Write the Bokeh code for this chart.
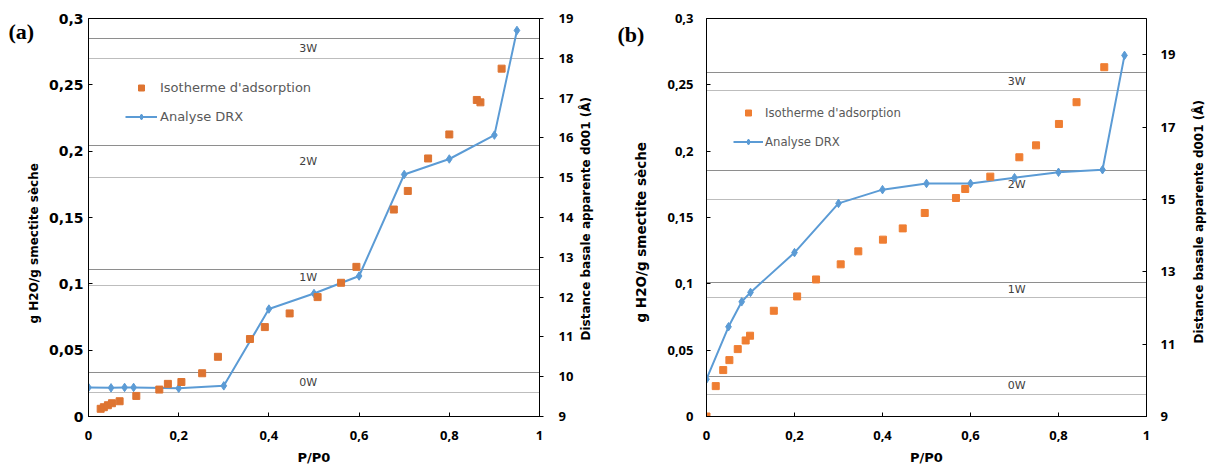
import math
from bokeh.plotting import figure
from bokeh.layouts import row
from bokeh.models import (Range1d, LinearAxis, FixedTicker, CustomJSTickFormatter,
                          Label, Legend, LegendItem)
from bokeh.embed import file_html
from bokeh.resources import INLINE
from bokeh.core.properties import value

# ---------------- data ----------------
# panel (a)
a_drx_p = [0, 0.05, 0.08, 0.1, 0.2, 0.3, 0.4, 0.5, 0.6, 0.7, 0.8, 0.9, 0.95]
a_drx_d = [9.73, 9.72, 9.73, 9.73, 9.71, 9.77, 11.70, 12.09, 12.53, 15.08, 15.47, 16.07, 18.70]
a_iso_p = [0.027, 0.034, 0.043, 0.052, 0.069, 0.106, 0.157, 0.176, 0.206, 0.252, 0.287,
           0.358, 0.391, 0.446, 0.508, 0.560, 0.594, 0.677, 0.708, 0.753, 0.800, 0.861,
           0.869, 0.916]
a_iso_w = [0.0058, 0.0070, 0.0085, 0.0100, 0.0115, 0.0155, 0.0203, 0.0246, 0.0260, 0.0326,
           0.0450, 0.0584, 0.0674, 0.0777, 0.0900, 0.1008, 0.1128, 0.1560, 0.1700, 0.1945,
           0.2126, 0.2386, 0.2368, 0.2622]
# panel (b)
b_drx_p = [0, 0.05, 0.08, 0.1, 0.2, 0.3, 0.4, 0.5, 0.6, 0.7, 0.8, 0.9, 0.95]
b_drx_d = [10.03, 11.48, 12.17, 12.43, 13.53, 14.89, 15.27, 15.44, 15.44, 15.60, 15.75, 15.82, 18.98]
b_iso_p = [0, 0.021, 0.038, 0.052, 0.071, 0.089, 0.099, 0.153, 0.206, 0.249, 0.305, 0.345,
           0.401, 0.446, 0.496, 0.567, 0.588, 0.645, 0.711, 0.749, 0.801, 0.841, 0.904]
b_iso_w = [0, 0.0229, 0.0350, 0.0425, 0.0508, 0.0573, 0.0609, 0.0797, 0.0905, 0.1033, 0.1147,
           0.1245, 0.1333, 0.1418, 0.1534, 0.1647, 0.1715, 0.1808, 0.1954, 0.2044, 0.2205,
           0.2369, 0.2633]

# hydration state bands (basal distance, Å)
band_names = ["0W", "1W", "2W", "3W"]
band_lo = [9.6, 12.3, 15.0, 18.0]
band_hi = [10.1, 12.7, 15.8, 18.5]

# ticks
x_ticks = [0, 0.2, 0.4, 0.6, 0.8, 1]
w_ticks = [0, 0.05, 0.1, 0.15, 0.2, 0.25, 0.3]
a_d_ticks = [9, 10, 11, 12, 13, 14, 15, 16, 17, 18, 19]
b_d_ticks = [9, 11, 13, 15, 17, 19]

BLUE = "#5B9BD5"
COMMA_CODE = "return tick.toFixed(2).replace(/0+$/, '').replace(/\\.$/, '').replace('.', ',');"


def style_axis(ax, font, size, tin, tout, standoff):
    ax.axis_line_color = "black"
    ax.axis_line_width = 1
    ax.major_tick_line_color = "black"
    ax.major_tick_in = tin
    ax.major_tick_out = tout
    ax.minor_tick_line_color = None
    ax.major_label_text_font = font
    ax.major_label_text_font_size = size
    ax.major_label_text_font_style = "bold"
    ax.major_label_text_color = "black"
    ax.major_label_standoff = standoff


def side_label(p, side, x, y, text, xo, yo, size, angle=0.0, font="DejaVu Sans"):
    p.add_layout(Label(x=x, y=y, x_offset=xo, y_offset=yo, text=text, angle=angle,
                       text_font=font, text_font_size=size, text_font_style="bold",
                       text_color="black", text_align="left", text_baseline="middle"), side)


def panel(cfg, drx_p, drx_d, iso_p, iso_w, d_top, d_ticks, orange):
    p = figure(width=cfg["width"], height=467, x_range=Range1d(0, 1), y_range=Range1d(0, 0.3),
               output_backend="svg", toolbar_location=None,
               min_border_left=cfg["bl"], min_border_right=cfg["br"],
               min_border_top=cfg["bt"], min_border_bottom=51)
    p.extra_y_ranges = {"d": Range1d(9, d_top)}
    p.xgrid.visible = False
    p.ygrid.visible = False
    p.outline_line_color = "black"
    p.outline_line_width = 1
    p.background_fill_color = "white"
    p.border_fill_color = "white"

    # axes
    xa = p.xaxis[0]
    xa.ticker = FixedTicker(ticks=x_ticks)
    xa.formatter = CustomJSTickFormatter(code=COMMA_CODE)
    style_axis(xa, "Open Sans", "13px", 4, 0, 14)
    xa.axis_label = "P/P0"
    xa.axis_label_standoff = 7
    xa.axis_label_text_font = "DejaVu Sans"
    xa.axis_label_text_font_size = "13px"
    xa.axis_label_text_font_style = "bold"
    xa.axis_label_text_color = "black"

    ya = p.yaxis[0]
    ya.ticker = FixedTicker(ticks=w_ticks)
    ya.formatter = CustomJSTickFormatter(code=COMMA_CODE)
    style_axis(ya, cfg["lfont"], cfg["lsize"], 4, 0, cfg["ls"])

    rax = LinearAxis(y_range_name="d", ticker=FixedTicker(ticks=d_ticks))
    style_axis(rax, "Open Sans", "13px", cfg["rin"], cfg["rout"], cfg["rs"])
    p.add_layout(rax, "right")

    # bands
    p.hspan(y=band_hi, y_range_name="d", line_color="#8E8E8E", line_width=1)
    p.hspan(y=band_lo, y_range_name="d", line_color="#BDBDBD", line_width=1)
    mids = [(a + b) / 2 for a, b in zip(band_lo, band_hi)]
    p.text(x=[cfg["bx"]] * len(mids), y=mids, text=band_names, y_range_name="d",
           text_font=value("DejaVu Sans"), text_font_size="11px", text_color="#404040",
           text_align="center", text_baseline="middle")

    # series
    ln = p.line(drx_p, drx_d, y_range_name="d", line_color=BLUE, line_width=2)
    dm = p.scatter(drx_p, drx_d, y_range_name="d", marker="diamond",
                   size=8.5, fill_color=BLUE, line_color=BLUE)
    sq = p.scatter(iso_p, iso_w, marker="square", size=7, fill_color=orange, line_color=orange)

    leg = Legend(items=[LegendItem(label="Isotherme d'adsorption", renderers=[sq]),
                        LegendItem(label="Analyse DRX", renderers=[ln, dm])],
                 location=cfg["legloc"], border_line_color=None, background_fill_alpha=0,
                 padding=0, margin=0, spacing=cfg["legsp"], glyph_width=cfg["gw"],
                 glyph_height=15, label_height=15, label_standoff=cfg["lstand"],
                 label_text_font="DejaVu Sans", label_text_font_size=cfg["legsize"],
                 label_text_color="#595959")
    p.add_layout(leg)

    # axis titles and panel tag, drawn in the border panels
    side_label(p, "left", 0, 0, "g H2O/g smectite sèche", cfg["ltx"], cfg["lty"], cfg["ltsize"],
               angle=math.pi / 2)
    side_label(p, "left", 0, 0.3, cfg["tag"], cfg["tagx"], cfg["tagy"], "22px",
               font="Liberation Serif")
    side_label(p, "right", 1, 0, "Distance basale apparente d001 (Å)", cfg["rtx"], cfg["rty"],
               "12px", angle=math.pi / 2)
    return p


cfg_a = dict(width=600, bl=88, br=61, bt=17, lfont="DejaVu Sans", lsize="14px", ls=5,
             rin=0, rout=4, rs=15, bx=0.487, legloc=(37, 292), legsp=14, gw=32, lstand=3,
             legsize="13px", tag="(a)", tagx=-80, tagy=-13, ltx=-55, lty=93, ltsize="12px",
             rtx=46, rty=76)
cfg_b = dict(width=610, bl=106, br=64, bt=18, lfont="Open Sans", lsize="13px", ls=13,
             rin=4, rout=0, rs=14, bx=0.705, legloc=(27, 267), legsp=14, gw=30, lstand=2,
             legsize="11.7px", tag="(b)", tagx=-89, tagy=-16, ltx=-66, lty=94,
             ltsize="13.5px", rtx=52, rty=73)

pa = panel(cfg_a, a_drx_p, a_drx_d, a_iso_p, a_iso_w, 19, a_d_ticks, "#DE7431")
pb = panel(cfg_b, b_drx_p, b_drx_d, b_iso_p, b_iso_w, 20, b_d_ticks, "#EF7E32")

layout = row(pa, pb)
open("out.html", "w").write(file_html(layout, INLINE))
